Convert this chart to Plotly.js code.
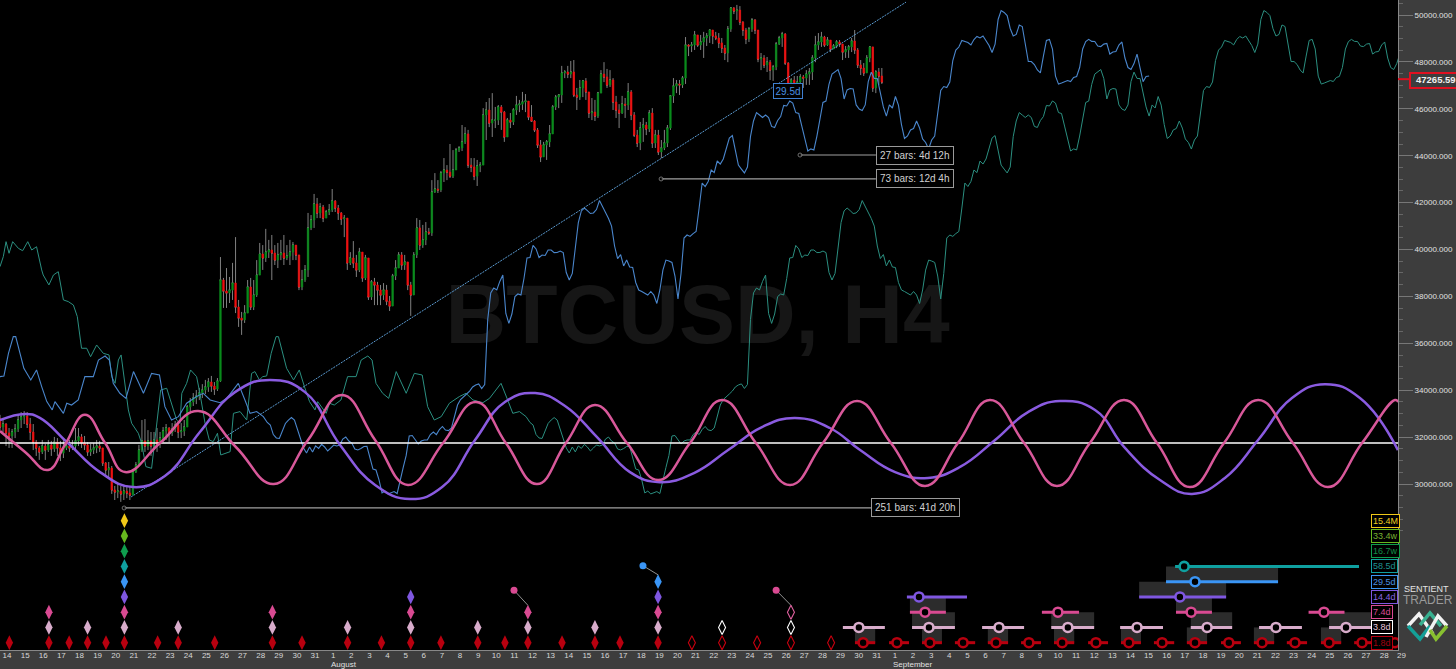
<!DOCTYPE html>
<html><head><meta charset="utf-8">
<script src="https://cdn.plot.ly/plotly-3.0.1.min.js"></script>
<style>html,body{margin:0;padding:0;background:#3d3d3d;overflow:hidden}#c{width:1456px;height:669px}</style>
</head><body><div id="c"></div>
<script>
// ---- 4-hour BTCUSD bars, bar 0 = first bar on the chart
const closes=[32430,32560,32180,32050,32220,32350,32730,32860,32900,32560,32220,31790,31540,31370,31620,31450,31670,31500,31790,31540,31320,31540,31620,31540,31620,31840,32010,31750,31670,31370,31450,31540,31620,31540,30900,30600,30680,29750,29660,29700,29580,29700,29620,29530,30510,
30810,31450,31840,31620,31840,31620,31880,31710,31960,32260,32390,32180,32350,32520,32220,32260,32430,33290,33500,33670,33750,33880,34010,34140,34350,34180,34050,34390,
38700,38230,38150,38270,38570,37550,37080,37000,37290,38400,
37550,38060,38910,39810,39640,39890,39980,39850,39550,39770,
39850,39640,39720,39890,40190,39770,38400,38700,39130,40920,
41260,41940,41560,41810,41340,41600,41690,42070,41770,41560,
41300,41340,39430,39640,39430,39130,39890,38790,39640,37980,
38620,38490,38270,38060,38270,37800,37590,38870,39210,39770,
39340,39470,38490,38060,39770,40920,40190,40410,40750,40710,
42450,
42580,42540,43260,43390,43300,43130,43390,44240,44330,44590,
44930,43600,43520,43130,43560,43600,45740,45950,45390,45520,
45520,46080,45860,44800,45520,45440,45950,46160,46200,46290,
46330,45650,45480,45100,44460,43950,44460,44590,44930,46080,
46500,46590,47530,47570,47480,47570,46590,46500,46890,47190,
46720,45820,45860,45690,46670,47480,47360,47020,47230,46290,
45950,45820,46200,46160,46720,45740,44880,44540,
45180,45310,45140,45820,44540,44880,44160,44330,44540,45180,
46550,46970,47060,47020,47310,48720,48680,48720,49150,48720,
48850,49020,49110,49360,49110,49020,48810,48590,48380,49400,
50300,50170,50210,49700,49360,48980,49400,49790,49360,48120,
48170,47870,47990,47650,47780,48760,49020,49190,47950,47020,
47230,47020,47140,47360,47310,47480,47570,48170,48720,48850,
49060,48720,48930,48550,48680,48850,48760,48420,48510,48640,
48890,48510,47870,47740,47530,48170,48640,46890,47570,47400,
47140];
const highs=[32950,32820,32600,32390,32350,32560,32950,33070,33110,33070,32820,32560,31880,31620,31880,31710,31880,31840,32010,31960,31840,31960,31880,31880,31880,32390,32390,32130,32050,31790,31710,31750,31880,31840,31540,30940,30940,30770,29920,30000,29920,29920,29960,29870,30600,
30940,31670,32730,32770,32300,32220,32220,32390,32220,32430,32560,32430,32600,32690,32650,32600,32730,33370,33670,33880,34010,34100,34260,34440,34520,34610,34350,34520,
39680,38790,39210,38830,39430,40530,37850,37340,37630,38700,
38790,38700,39550,40280,40190,40880,40410,40620,40190,40280,
40410,40620,40190,40410,40320,40190,39770,39130,39340,41560,
41470,42370,42200,41980,41900,41690,41940,42580,42110,41900,
41600,41470,41170,39890,40360,39770,40070,39890,39770,39340,
38700,38790,38620,38490,38570,38490,38020,38960,39550,39890,
39890,39770,39470,38620,39890,41340,41260,41050,41170,40920,
42960,
43260,42960,43350,43900,43600,44500,44240,44330,44410,45310,
45220,45100,43900,43900,43820,43730,46030,46290,46460,46670,
46080,46160,46160,45910,45610,45820,46030,46550,46380,46720,
46630,46160,46160,45520,45180,44670,44590,44670,45310,46160,
46590,46630,47830,47650,47830,48040,48080,46890,47230,47230,
47310,46720,46460,46380,46720,47650,47990,47700,47650,47310,
46550,46200,46550,46460,47100,46800,45860,45100,
45440,45610,45440,45950,46030,45100,45100,44670,45100,45310,
46590,47310,47230,47230,47400,49060,48760,48850,49320,49110,
49150,49280,49230,49360,49280,49280,49230,49020,48720,49530,
50340,50340,50430,50380,49740,49450,49490,49870,49830,49360,
48380,48290,48210,48080,47870,48850,49110,49280,49230,47990,
47310,47400,47400,47480,47440,47650,47740,48290,49110,49230,
49280,49110,49060,48930,48760,48930,48930,48590,48680,48720,
49020,49360,48590,48080,47950,48290,48680,48640,47650,47740,
47740];
const lows=[32300,32220,31620,31540,31540,31960,32220,32390,32560,32390,31880,31450,31200,31030,31280,31030,31370,31200,31370,31200,30980,31110,31450,31370,31450,31450,31620,31540,31450,31200,31200,31280,31320,31370,30770,30340,30260,29580,29320,29400,29240,29320,29400,29320,29580,
30470,30770,31370,31370,31450,31200,31450,31370,31540,31790,31880,31790,32050,32220,31960,31960,32050,32520,33070,33330,33410,33580,33670,33840,33930,33930,33800,33970,
34350,37510,37510,37720,37850,37290,36700,36360,36870,37290,
37420,37420,37980,39000,39130,39470,39640,38700,39340,39210,
39550,39340,39550,39340,39550,39550,38270,38270,38620,38830,
40830,40920,41340,41340,41170,41430,41470,41600,41600,41260,
41050,40530,39130,39340,39210,38830,39040,38620,38700,37850,
37850,37630,37630,37630,37850,37630,37380,37590,38700,39210,
39130,39130,38270,37170,38060,39640,39980,40070,40190,40620,
40580,
42410,42410,42450,42880,42960,43050,43050,43390,44160,44200,
44500,43480,43300,42960,42710,43300,43600,44670,45220,44800,
45180,45310,45100,44590,44800,45180,45310,45740,45860,45950,
45860,45520,45440,45010,44330,43730,43990,43820,44370,45100,
45950,46030,46250,47310,47310,47310,46500,45950,46380,46500,
46380,45610,45520,45480,45610,46670,47140,46890,46930,45950,
45610,45180,45780,45610,45950,45520,44800,44370,
44240,44590,44880,45010,44330,44330,44030,43900,44240,44370,
45100,46250,46670,46590,46890,47060,48250,48420,48510,48640,
48510,48170,48680,48810,48760,48930,48590,48380,48080,47990,
49280,50040,49790,49570,49110,48760,48850,49280,49190,47990,
47650,47740,47570,47230,47190,47650,48720,48640,47870,46800,
46800,46800,46930,46930,46890,47020,47020,47230,47990,48510,
48640,48640,48680,48420,48550,48590,48640,48080,48170,48170,
48420,48340,47740,47440,47400,47570,47990,46720,46670,47020,
47060];
const firstOpen=32800;
// mid prices before the first bar (negative bar numbers), seen through the displaced lines
const historyBars=[-175.5,-174.4,-173.5,-172.5,-171.3,-169.4,-168,-166.3,-165,-163.4,-161.7,-161.2,-159.3,-157.8,-156.2,-154.5,-152.9,-151.2,-149.9,-148.5,-146.8,-145.5,-143.5,-141.3,-139.4,-138.5,-137.4,-136.3,-135.4,-134.4,-133,-131.9,-129.7,-128.6,-127.2,-125.3,-123.6,-122.3,-120.3,-118.7,-117,-115.9,-115.3,-113.7,-112.4,-110.4,-109.3,-107.6,-106.2,-104.9,-103.5,-102.4,-99.3,-98.2,-96,-93.8,-92.2,-91.1,-89.6,-88.5,-87.2,-85.7,-84.1,-83.3,-81.9,-80.6,-78.3,-76.4,-74.7,-73,-71.2,-70.3,-67.5,-66.4,-64.8,-62.6,-60.4,-57.6,-55.9,-53.7,-52.3,-51,-48.8,-46.8,-44.3,-41,-38.3,-35.7,-33.9,-31.7,-29.4,-26.7,-23.4,-21.2,-18.9,-15.6,-13.4,-9.6,-7.4,-5.7,-3.5,-1.3];
const historyMid=[39270,39700,40335,39840,40335,40050,39950,40335,39980,40120,39130,38915,38490,38915,39055,37850,37780,37635,37140,35790,35790,35430,35930,35575,35505,34580,34295,35290,35505,34580,33160,32590,32165,31740,30745,30670,32730,34010,34085,33445,32730,32590,33870,34295,34865,34580,33870,32590,31880,31810,32165,31240,31380,33015,33090,32730,34720,34795,34440,34580,34610,35575,36285,36285,35575,34935,34440,34865,34155,33515,33160,33515,33015,33445,33370,33585,34580,34580,35290,35460,35290,34295,33870,33655,34795,33870,34720,34650,33300,32730,32875,33445,33730,33870,33585,33470,33655,34295,33585,33015,33090,32875];
const shiftBlueBars=88.5, shiftTealBars=175.5;
// the two drawn cycle waves
const pinkBars=[0,8.3,15.9,21.5,28.1,34.8,41.4,53,65.6,78.1,90.7,102,113.2,124.2,135.1,146.7,157.6,167.5,177.8,187.4,197,207.6,217.9,228.5,239.1,250.3,261.6,272.5,283.8,295,306.3,317.2,327.8,339.1,350,360.9,372.2,383.1,394,405.3,416.6,428.1,439.7,451,461.9,463];
const pinkPrices=[32260,31370,30600,31670,32950,31750,30510,31750,33110,31580,30000,31880,33800,31880,29960,31750,33500,31750,30000,31750,33370,31750,30170,31750,33580,31750,29960,31750,33540,31750,29920,31750,33580,31750,29920,31750,33580,31750,29870,31750,33580,31750,29870,31750,33580,33500];
const purpleBars=[0,8.3,13.2,22.5,33.1,44,54.6,66.2,77.8,89.4,101,112.6,124.2,135.8,146.4,157.3,167.2,177.2,187.1,197.7,208.6,218.5,229.8,241.1,252.3,263.2,274.8,284.8,296.4,307.3,317.9,329.5,340.4,351,362.6,372.5,384.1,394.7,405.6,416.6,427.8,438.7,450.3,462.9];
const purplePrices=[32730,32990,32820,31750,30510,29870,30340,32220,33920,34440,33920,31670,29960,29360,29870,31880,33500,33880,33330,32000,30510,30080,30470,31450,32430,32820,32390,31450,30510,30260,30730,31880,33070,33540,33160,31540,30170,29580,30260,31880,33670,34260,33670,31450];
const baseline=31750;
// trend line and measured spans
const trendBars=[43.4,300], trendPrices=[29450,50550];
const spanLabels=['27 bars: 4d 12h','73 bars: 12d 4h','251 bars: 41d 20h'];
const spanStartBars=[264.9,218.9,41.1], spanEndBars=[290,290,288.4], spanPrices=[44030,43010,28980];
const lastPrice=47265.59, lastPriceLabel='47265.59';
// axes
const dayLabels=[14,15,16,17,18,19,20,21,22,23,24,25,26,27,28,29,30,31,1,2,3,4,5,6,7,8,9,10,11,12,13,14,15,16,17,18,19,20,21,22,23,24,25,26,27,28,29,30,31,1,2,3,4,5,6,7,8,9,10,11,12,13,14,15,16,17,18,19,20,21,22,23,24,25,26,27,28,29];
const priceTicks=[30000,32000,34000,36000,38000,40000,42000,44000,46000,48000,50000];
const priceMinorTicks=[28000,28500,29000,29500,30500,31000,31500,32500,33000,33500,34500,35000,35500,36500,37000,37500,38500,39000,39500,40500,41000,41500,42500,43000,43500,44500,45000,45500,46500,47000,47500,48500,49000,49500,50500];
// cycle panel: levels 0..8, lowest cycle first
const cycleNames=['1.8d','3.8d','7.4d','14.4d','29.5d','58.5d','16.7w','33.4w','15.4M'];
const cycleColors=['#b8000f','#d8accb','#d94a92','#7f57e0','#3a95f5','#0fa0a0','#0f9d4e','#66b81e','#f0c818'];
const cycleTextColors=['#a00010','#e4c4da','#d94a92','#8a66e0','#4a90e0','#1f9090','#10904a','#78b030','#f0d020'];
const diamonds=[[3.1,16.2,22.9,29,35.1,41.2,52.2,59,71.1,90.2,100,115.1,126.3,136,146,158.2,167.2,174.8,186.1,197,205.3,217.9],[16.2,29,41.2,59,90.2,115.1,136,158.2,174.8,197,217.9],[16.2,41.2,90.2,136,174.8,217.9],[41.2,136,217.9],[41.2,217.9],[41.2],[41.2],[41.2],[41.2]];
const hollowLevels=[0,1,2];
const hollowBars=[[229.1,239.1,250.7,261.9,275.2],[239.1,261.9],[261.9]];
const hollowColors=['#c8000f','#ffffff','#e060a0'];
const pinLevels=[2,4,2], pinColors=['#d94a92','#3a95f5','#d94a92'];
const pinBarsFrom=[170.2,212.9,257], pinBarsTo=[174.8,217.9,261.9];
const pinHeadOffset=[1.44,1.05,1.44];
// phase projections per level: centre, low and high bar, and whether the span has a grey band
const projLevel=[5,4,3,3,2,2,2,2,1,1,1,1,1,1,1,1,0,0,0,0,0,0,0,0,0,0,0,0,0,0,0,0,0];
const projCentre=[392.1,395.7,304.3,390.7,306.3,350.3,394.4,438.4,284.4,307.6,330.8,353.6,376.5,399.7,422.5,445.7,285.8,297,307.9,318.9,329.8,340.7,351.7,362.9,373.8,384.8,395.7,406.9,417.9,428.8,440.1,451,461.9];
const projLow=[389.1,386.1,300.3,377.2,301.3,345,389.4,433.3,279.1,302,325.2,348.1,370.9,394.3,416.9,440.1,283.1,294.4,305.3,316.2,327.1,338.1,349,360.3,371.2,382.1,393,404.3,415.2,426.1,437.4,448.4,459.3];
const projHigh=[450,423.2,320.2,406,313.2,357.3,401.3,445.2,293,316.2,339.1,362.3,385.1,408,431.1,454,289.8,301,311.9,322.9,333.8,344.7,355.7,366.9,377.8,388.8,399.7,410.9,421.9,432.8,444.1,455,462.9];
const projBand=[0,1,0,1,1,0,1,0,0,1,0,1,0,1,0,1,1,0,1,0,1,0,1,0,1,0,1,0,1,0,1,0,0];

// ---- build
const bars=closes.map((_,i)=>i);
const opens=closes.map((_,i)=>i?closes[i-1]:firstOpen);
const mids=closes.map((_,i)=>(highs[i]+lows[i])/2);
const lineBars=historyBars.concat(bars), lineVals=historyMid.concat(mids);
const W=1398,H=650,pxX=p=>p/W,pxY=p=>1-p/H;
const traces=[];
traces.push({type:'scatter',mode:'text',x:[231],y:[36910],text:['<b>BTCUSD, H4</b>'],textposition:'middle center',textfont:{family:'Liberation Sans, Arial',size:84,color:'#161616'},hoverinfo:'skip',showlegend:false});
traces.push({type:'scatter',mode:'lines',x:lineBars.map(b=>b+shiftTealBars),y:lineVals,line:{color:'#2b8f80',width:1},hoverinfo:'skip',showlegend:false});
traces.push({type:'scatter',mode:'lines',x:lineBars.map(b=>b+shiftBlueBars),y:lineVals,line:{color:'#4a86cc',width:1.1},hoverinfo:'skip',showlegend:false});
traces.push({type:'scatter',mode:'lines',x:trendBars,y:trendPrices,line:{color:'#5a9ad0',width:1,dash:'2px,1px'},hoverinfo:'skip',showlegend:false});
traces.push({type:'candlestick',x:bars,open:closes,high:highs,low:lows,close:closes,whiskerwidth:0,
  increasing:{line:{color:'#808080',width:1},fillcolor:'#808080'},decreasing:{line:{color:'#808080',width:1},fillcolor:'#808080'},hoverinfo:'skip',showlegend:false});
traces.push({type:'candlestick',x:bars,open:opens,high:bars.map(i=>Math.max(opens[i],closes[i])),low:bars.map(i=>Math.min(opens[i],closes[i])),close:closes,whiskerwidth:0,
  increasing:{line:{color:'#0a8c1c',width:0.7},fillcolor:'#0a8c1c'},decreasing:{line:{color:'#f01010',width:0.7},fillcolor:'#f01010'},hoverinfo:'skip',showlegend:false});
traces.push({type:'scatter',mode:'lines',x:[0,463],y:[baseline,baseline],line:{color:'#ffffff',width:1.5},hoverinfo:'skip',showlegend:false});
traces.push({type:'scatter',mode:'lines',x:purpleBars,y:purplePrices,line:{color:'#8a5be0',width:2.5,shape:'spline',smoothing:1.3},hoverinfo:'skip',showlegend:false});
traces.push({type:'scatter',mode:'lines',x:pinkBars,y:pinkPrices,line:{color:'#d8589a',width:2.5,shape:'spline',smoothing:1.3},hoverinfo:'skip',showlegend:false});
spanLabels.forEach((_,i)=>{traces.push({type:'scatter',mode:'lines+markers',x:[spanStartBars[i],spanEndBars[i]],y:[spanPrices[i],spanPrices[i]],line:{color:'#a0a0a0',width:1.2},marker:{size:[4,0.1],color:'#000',line:{color:'#a0a0a0',width:1}},hoverinfo:'skip',showlegend:false});});
// cycle panel traces (second y axis counts levels)
const L={yaxis:'y2',hoverinfo:'skip',showlegend:false};
diamonds.forEach((xs,lv)=>{traces.push(Object.assign({type:'scatter',mode:'markers',x:xs,y:xs.map(()=>lv),marker:{symbol:'diamond-tall',size:10.5,color:cycleColors[lv],line:{width:0}}},L));});
hollowLevels.forEach((lv,k)=>{traces.push(Object.assign({type:'scatter',mode:'markers',x:hollowBars[k],y:hollowBars[k].map(()=>lv),marker:{symbol:'diamond-tall',size:10,color:'#000',line:{color:hollowColors[k],width:1.1}}},L));});
pinLevels.forEach((lv,k)=>{traces.push(Object.assign({type:'scatter',mode:'lines',x:[pinBarsFrom[k],pinBarsTo[k]],y:[lv+pinHeadOffset[k],lv+0.45],line:{color:'#909090',width:1}},L));
  traces.push(Object.assign({type:'scatter',mode:'markers',x:[pinBarsFrom[k]],y:[lv+pinHeadOffset[k]],marker:{size:7,color:pinColors[k]}},L));});
for(let lv=0;lv<6;lv++){const xs=[],ys=[],cx=[],cy=[];
  projLevel.forEach((l,i)=>{if(l===lv){xs.push(projLow[i],projHigh[i],null);ys.push(lv,lv,null);cx.push(projCentre[i]);cy.push(lv);}});
  traces.push(Object.assign({type:'scatter',mode:'lines',x:xs,y:ys,line:{color:cycleColors[lv],width:3}},L));
  traces.push(Object.assign({type:'scatter',mode:'markers',x:cx,y:cy,marker:{size:9,color:'#000',line:{color:cycleColors[lv],width:2.6}}},L));}
const shapes=[];
projLevel.forEach((l,i)=>{if(projBand[i])shapes.push({type:'rect',layer:'below',xref:'x',yref:'y2',x0:projLow[i],x1:projHigh[i],y0:l,y1:l+1,line:{width:0},fillcolor:'#2c2c2c'});});
// last price flag
shapes.push({type:'rect',xref:'paper',yref:'paper',x0:pxX(1410),x1:pxX(1462),y0:pxY(88),y1:pxY(73),line:{color:'#e01020',width:2},fillcolor:'rgba(0,0,0,0)'});
shapes.push({type:'line',xref:'paper',yref:'y',x0:pxX(1398),x1:pxX(1410),y0:lastPrice,y1:lastPrice,line:{color:'#e01020',width:2}});
// brand mark
[['M1408,626 L1419,614 L1433,634','#f2f2f2'],['M1408,626 L1420,639 L1430,626','#14a098'],['M1420,625 L1430,613 L1441,626','#38b090'],['M1426,637 L1438,616 L1447,626','#f2f2f2'],['M1447,626 L1436,639 L1430,630','#88c030']].forEach(p=>{
  const d=p[0].replace(/(\d+),(\d+)/g,(m,a,b)=>pxX(+a)+','+pxY(+b));
  shapes.push({type:'path',xref:'paper',yref:'paper',path:d,line:{color:p[1],width:3.5},fillcolor:'rgba(0,0,0,0)'});
});
const annotations=[];
const tf={family:'Liberation Sans, Arial',size:10,color:'#d0d0d0'};
const c={xanchor:'center',yanchor:'middle',showarrow:false,xref:'paper',yref:'paper'};
spanLabels.forEach((t,i)=>annotations.push({xref:'x',yref:'y',x:spanEndBars[i],y:spanPrices[i],text:t,showarrow:false,xanchor:'left',yanchor:'middle',font:tf,bgcolor:'#000',bordercolor:'#9a9a9a',borderwidth:1,borderpad:3}));
annotations.push({xref:'x',yref:'y',x:256,y:46760,text:'29.5d',showarrow:false,xanchor:'left',yanchor:'middle',font:{family:tf.family,size:10,color:'#4a90e0'},bgcolor:'#000',bordercolor:'#3f7fd0',borderwidth:1,borderpad:1.5});
cycleNames.forEach((t,i)=>annotations.push({xref:'x',yref:'y2',x:454,y:i,text:t,showarrow:false,xanchor:'left',yanchor:'middle',font:{family:tf.family,size:9,color:cycleTextColors[i]},bgcolor:'#000',bordercolor:i===1?'#ffffff':cycleColors[i],borderwidth:1,borderpad:1}));
annotations.push({xref:'paper',yref:'y',x:pxX(1414),y:lastPrice,text:'<b>'+lastPriceLabel+'</b>',showarrow:false,xanchor:'left',yanchor:'middle',font:{family:tf.family,size:9.5,color:'#f0f0f0'}});
annotations.push(Object.assign({x:pxX(344),y:pxY(664.5),text:'August',font:{family:tf.family,size:8,color:'#e0e0e0'}},c));
annotations.push(Object.assign({x:pxX(913),y:pxY(664.5),text:'September',font:{family:tf.family,size:8,color:'#e0e0e0'}},c));
annotations.push(Object.assign({x:pxX(1402),y:pxY(655),text:'29',font:{family:tf.family,size:8,color:'#d8d8d8'}},c));
annotations.push(Object.assign({x:pxX(1426),y:pxY(589),text:'SENTIENT',font:{family:'Liberation Sans, Arial',size:9,color:'#e4e4e4'}},c));
annotations.push(Object.assign({x:pxX(1428),y:pxY(600),text:'TRADER',font:{family:'Liberation Sans, Arial',size:12,color:'#9a9a9a'}},c));
const layout={width:1456,height:669,margin:{l:0,r:58,t:0,b:19,pad:0},paper_bgcolor:'#3d3d3d',plot_bgcolor:'#000',showlegend:false,dragmode:false,
 xaxis:{range:[0,1398/3.02],rangeslider:{visible:false},fixedrange:true,showgrid:false,zeroline:false,showline:true,linecolor:'#888',tickmode:'array',tickvals:dayLabels.map((_,k)=>2.32+6*k),ticktext:dayLabels.map(String),ticks:'',tickangle:0,ticklabelstandoff:-3,tickfont:{family:'Liberation Sans, Arial',size:8,color:'#d8d8d8'},automargin:false},
 yaxis:{range:[50640-650*42.64,50640],fixedrange:true,side:'right',showgrid:false,zeroline:false,showline:true,linecolor:'#888',tickmode:'array',tickvals:priceTicks,tickformat:'.3f',ticks:'outside',ticklen:14,tickcolor:'#777',tickfont:{family:'Liberation Sans, Arial',size:8,color:'#e0e0e0'},automargin:false,
   minor:{tickmode:'array',tickvals:priceMinorTicks,ticks:'outside',ticklen:4,tickcolor:'#666'}},
 yaxis2:{overlaying:'y',anchor:'x',range:[-0.48,42.14],visible:false,fixedrange:true},
 shapes:shapes,annotations:annotations,hovermode:false};
Plotly.newPlot('c',traces,layout,{displayModeBar:false,staticPlot:true});
</script></body></html>
